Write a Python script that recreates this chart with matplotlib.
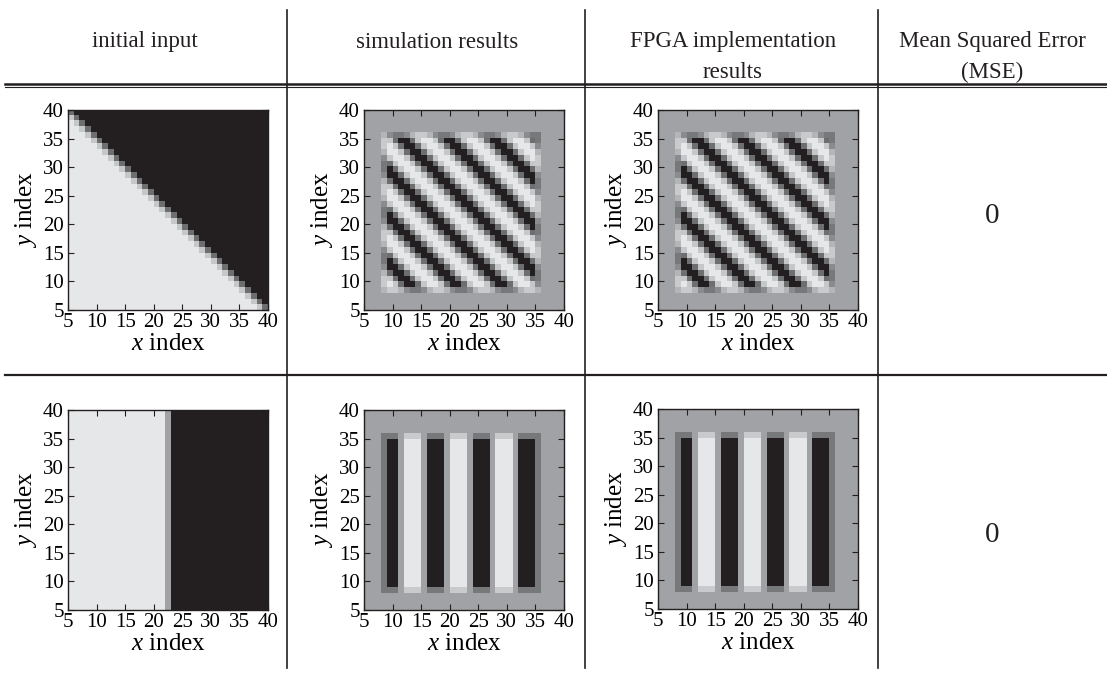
"""
Recreation of the edge/stripe comparison table: input image, simulation
output, FPGA output and the MSE between them.
"""
import numpy as np
import matplotlib
matplotlib.use("Agg")
import matplotlib.pyplot as plt
from matplotlib.colors import to_rgb

# ---------------------------------------------------------------------------
# Style
# ---------------------------------------------------------------------------
plt.rcParams.update({
    "font.family": "Liberation Serif",
    "mathtext.fontset": "custom",
    "mathtext.rm": "Liberation Serif",
    "mathtext.it": "Liberation Serif:italic",
})

FIG_W, FIG_H = 1107, 673

# grey level of each cell code
GREYS = {
    "K": "#231f20",   # black
    "D": "#6d6e70",   # dark grey
    "L": "#c6c7c9",   # light grey
    "W": "#e6e7e8",   # near white
    "G": "#a1a2a5",   # background grey
    "k": "#77787a",   # border versions (mixed with background)
    "d": "#8a8b8e",
    "l": "#b4b5b7",
    "w": "#c9cacc",
}

# header text, one list entry per printed line
COLUMN_TITLES = [["initial input"], ["simulation results"],
                 ["FPGA implementation", "results"],
                 ["Mean Squared Error", "(MSE)"]]
MSE_VALUES = ["0", "0"]
TICKS = [5, 10, 15, 20, 25, 30, 35, 40]
EXTENT = (5, 40, 5, 40)

# ---------------------------------------------------------------------------
# Cell maps, rows listed from y=40 (top) down to y=5
# ---------------------------------------------------------------------------
INPUT_DIAG = [
    "D" + "K" * 34,
    "LD" + "K" * 33,
    "W" * 1 + "LD" + "K" * 32,
    "W" * 2 + "LD" + "K" * 31,
    "W" * 3 + "LD" + "K" * 30,
    "W" * 4 + "LD" + "K" * 29,
    "W" * 5 + "LD" + "K" * 28,
    "W" * 6 + "LD" + "K" * 27,
    "W" * 7 + "LD" + "K" * 26,
    "W" * 8 + "LD" + "K" * 25,
    "W" * 9 + "LD" + "K" * 24,
    "W" * 10 + "LD" + "K" * 23,
    "W" * 11 + "LD" + "K" * 22,
    "W" * 12 + "LD" + "K" * 21,
    "W" * 13 + "LD" + "K" * 20,
    "W" * 14 + "LD" + "K" * 19,
    "W" * 15 + "LD" + "K" * 18,
    "W" * 16 + "LD" + "K" * 17,
    "W" * 17 + "LD" + "K" * 16,
    "W" * 18 + "LD" + "K" * 15,
    "W" * 19 + "LD" + "K" * 14,
    "W" * 20 + "LD" + "K" * 13,
    "W" * 21 + "LD" + "K" * 12,
    "W" * 22 + "LD" + "K" * 11,
    "W" * 23 + "LD" + "K" * 10,
    "W" * 24 + "LD" + "K" * 9,
    "W" * 25 + "LD" + "K" * 8,
    "W" * 26 + "LD" + "K" * 7,
    "W" * 27 + "LD" + "K" * 6,
    "W" * 28 + "LD" + "K" * 5,
    "W" * 29 + "LD" + "K" * 4,
    "W" * 30 + "LD" + "K" * 3,
    "W" * 31 + "LD" + "K" * 2,
    "W" * 32 + "LD" + "K" * 1,
    "W" * 33 + "LD",
]

SIM_DIAG = [
    "G" * 35,
    "G" * 35,
    "G" * 35,
    "G" * 35,
    "GGG" + "ldkkdlwwldkkdlwwldkkdlwwldkk" + "GGGG",
    "GGG" + "wLDKKDLWWLDKKDLWWLDKKDLWWLDk" + "GGGG",
    "GGG" + "wWLDKKDLWWLDKKDLWWLDKKDLWWLd" + "GGGG",
    "GGG" + "lWWLDKKDLWWLDKKDLWWLDKKDLWWl" + "GGGG",
    "GGG" + "dLWWLDKKDLWWLDKKDLWWLDKKDLWw" + "GGGG",
    "GGG" + "kDLWWLDKKDLWWLDKKDLWWLDKKDLw" + "GGGG",
    "GGG" + "kKDLWWLDKKDLWWLDKKDLWWLDKKDl" + "GGGG",
    "GGG" + "dKKDLWWLDKKDLWWLDKKDLWWLDKKd" + "GGGG",
    "GGG" + "lDKKDLWWLDKKDLWWLDKKDLWWLDKk" + "GGGG",
    "GGG" + "wLDKKDLWWLDKKDLWWLDKKDLWWLDk" + "GGGG",
    "GGG" + "wWLDKKDLWWLDKKDLWWLDKKDLWWLd" + "GGGG",
    "GGG" + "lWWLDKKDLWWLDKKDLWWLDKKDLWWl" + "GGGG",
    "GGG" + "dLWWLDKKDLWWLDKKDLWWLDKKDLWw" + "GGGG",
    "GGG" + "kDLWWLDKKDLWWLDKKDLWWLDKKDLw" + "GGGG",
    "GGG" + "kKDLWWLDKKDLWWLDKKDLWWLDKKDl" + "GGGG",
    "GGG" + "dKKDLWWLDKKDLWWLDKKDLWWLDKKd" + "GGGG",
    "GGG" + "lDKKDLWWLDKKDLWWLDKKDLWWLDKk" + "GGGG",
    "GGG" + "wLDKKDLWWLDKKDLWWLDKKDLWWLDk" + "GGGG",
    "GGG" + "wWLDKKDLWWLDKKDLWWLDKKDLWWLd" + "GGGG",
    "GGG" + "lWWLDKKDLWWLDKKDLWWLDKKDLWWl" + "GGGG",
    "GGG" + "dLWWLDKKDLWWLDKKDLWWLDKKDLWw" + "GGGG",
    "GGG" + "kDLWWLDKKDLWWLDKKDLWWLDKKDLw" + "GGGG",
    "GGG" + "kKDLWWLDKKDLWWLDKKDLWWLDKKDl" + "GGGG",
    "GGG" + "dKKDLWWLDKKDLWWLDKKDLWWLDKKd" + "GGGG",
    "GGG" + "lDKKDLWWLDKKDLWWLDKKDLWWLDKk" + "GGGG",
    "GGG" + "wLDKKDLWWLDKKDLWWLDKKDLWWLDk" + "GGGG",
    "GGG" + "wWLDKKDLWWLDKKDLWWLDKKDLWWLd" + "GGGG",
    "GGG" + "lwwldkkdlwwldkkdlwwldkkdlwwl" + "GGGG",
    "G" * 35,
    "G" * 35,
    "G" * 35,
]

INPUT_STEP = ["W" * 17 + "G" + "K" * 17] * 35

SIM_STEP = (
    ["G" * 35] * 4
    + ["GGG" + "kkkGwwwGkkkGwwwGkkkGwwwGkkkk" + "GGGG"]
    + ["GGG" + "kKKGWWWGKKKGWWWGKKKGWWWGKKKk" + "GGGG"] * 26
    + ["GGG" + "kkkGwwwGkkkGwwwGkkkGwwwGkkkk" + "GGGG"]
    + ["G" * 35] * 3
)

# the FPGA output is identical to the simulation (MSE = 0)
FPGA_DIAG = list(SIM_DIAG)
FPGA_STEP = list(SIM_STEP)

# panel boxes in pixels: left, top, right, bottom
PANELS = [
    (INPUT_DIAG, (68, 110, 268, 310)),
    (SIM_DIAG, (364, 110, 564, 310)),
    (FPGA_DIAG, (658, 110, 858, 310)),
    (INPUT_STEP, (68, 410, 268, 610)),
    (SIM_STEP, (364, 410, 564, 610)),
    (FPGA_STEP, (658, 409, 858, 609)),
]


def to_image(rows):
    assert all(len(r) == 35 for r in rows) and len(rows) == 35
    return np.array([[to_rgb(GREYS[c]) for c in r] for r in rows])


def add_panel(fig, rows, box):
    x0, y0, x1, y1 = box
    ax = fig.add_axes([x0 / FIG_W, 1 - y1 / FIG_H,
                       (x1 - x0) / FIG_W, (y1 - y0) / FIG_H])
    ax.imshow(to_image(rows), extent=EXTENT, origin="upper",
              interpolation="nearest", aspect="auto")
    ax.set_xlim(5, 40)
    ax.set_ylim(5, 40)
    ax.set_xticks(TICKS)
    ax.set_yticks(TICKS)
    ax.tick_params(direction="in", top=True, right=True, length=4,
                   width=0.8, labelsize=15, color="#231f20")
    ax.tick_params(axis="x", pad=2)
    ax.tick_params(axis="y", pad=3)
    for s in ax.spines.values():
        s.set_linewidth(1.0)
        s.set_color("#231f20")
    ax.set_xlabel(r"$x$ index", fontsize=18, labelpad=1)
    ax.set_ylabel(r"$y$ index", fontsize=18, labelpad=3)
    return ax


def main():
    fig = plt.figure(figsize=(FIG_W / 100, FIG_H / 100), dpi=100)

    # table frame
    grid = fig.add_axes([0, 0, 1, 1])
    grid.set_xlim(0, FIG_W)
    grid.set_ylim(FIG_H, 0)
    grid.axis("off")
    for xv in [287, 585, 878]:
        grid.plot([xv, xv], [10, 668], color="#231f20", lw=1.2)
    grid.plot([5, FIG_W], [84, 84], color="#231f20", lw=1.8)
    grid.plot([5, FIG_W], [87, 87], color="#231f20", lw=0.8)
    grid.plot([5, FIG_W], [375, 375], color="#231f20", lw=1.6)

    title_x = [145, 437, 733, 992]
    for tx, lines in zip(title_x, COLUMN_TITLES):
        for k, line in enumerate(lines):
            grid.text(tx, 42 + 30 * k, line, ha="center", va="center",
                      fontsize=16.5, color="#231f20")
    for ty, val in zip([216, 535], MSE_VALUES):
        grid.text(992, ty, val, ha="center", va="center", fontsize=21,
                  color="#231f20")

    for rows, box in PANELS:
        add_panel(fig, rows, box)

    fig.savefig("out.png", dpi=100)
    plt.close(fig)


if __name__ == "__main__":
    main()
